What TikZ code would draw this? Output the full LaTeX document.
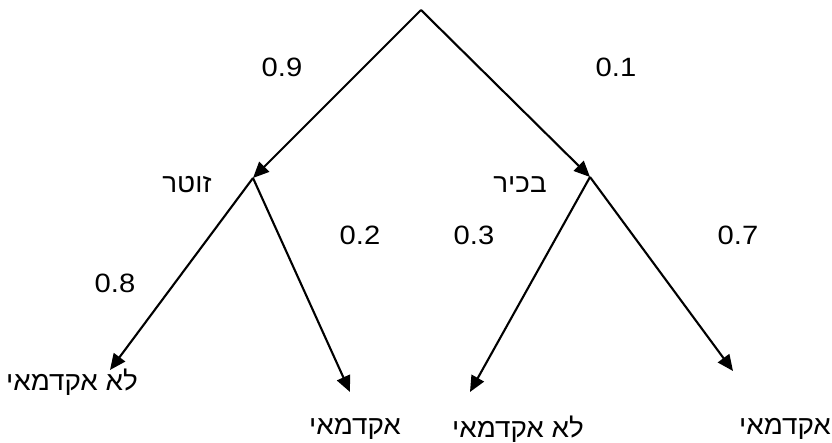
\documentclass[tikz,border=0pt]{standalone}
\usepackage{fontspec}
\setmainfont{Liberation Sans}
\newfontfamily\hebfont[Script=Hebrew]{Liberation Sans}
\TeXXeTstate=1
\usetikzlibrary{arrows.meta}
\begin{document}
\begin{tikzpicture}[x=1pt,y=-1pt,
  edge/.style={line width=2.1pt,-{Triangle[length=16pt,width=14pt]}},
  lbl/.style={inner sep=0pt,font=\fontsize{26.5}{30}\selectfont,xscale=1.1},
  heb/.style={inner sep=0pt,font=\hebfont\fontsize{26.5}{30}\selectfont,xscale=1.05}]
\useasboundingbox (0,0) rectangle (832,443);
\coordinate (root) at (421,10);
\coordinate (L) at (253,178);
\coordinate (R) at (590,177);
\coordinate (LL) at (110,370);
\coordinate (LR) at (350,392);
\coordinate (RL) at (470,392);
\coordinate (RR) at (733,371);
\draw[edge] (root) -- (L);
\draw[edge] (root) -- (R);
\draw[edge] (L) -- (LL);
\draw[edge] (L) -- (LR);
\draw[edge] (R) -- (RL);
\draw[edge] (R) -- (RR);
\node[lbl] (p09) at (282,67) {0.9};
\node[lbl] (p01) at (616,67) {0.1};
\node[lbl] (p02) at (360,235) {0.2};
\node[lbl] (p03) at (474,235) {0.3};
\node[lbl] (p08) at (115,283) {0.8};
\node[lbl] (p07) at (738,235) {0.7};
\node[heb] (zut) at (187,185) {\beginR זוטר\endR};
\node[heb] (bak) at (520,185) {\beginR בכיר\endR};
\node[heb] (t1) at (72,382) {\beginR לא אקדמאי\endR};
\node[heb] (t2) at (355,429) {\beginR אקדמאי\endR};
\node[heb] (t3) at (518,429) {\beginR לא אקדמאי\endR};
\node[heb] (t4) at (785,429) {\beginR אקדמאי\endR};
\end{tikzpicture}
\end{document}
